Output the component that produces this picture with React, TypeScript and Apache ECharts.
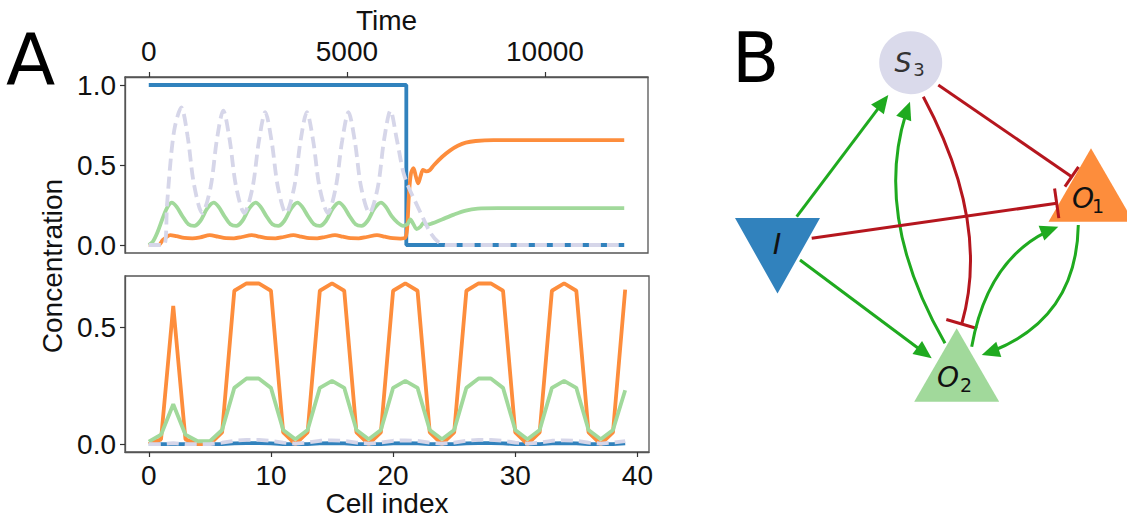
import React, { useEffect, useRef } from "react";
import * as echarts from "echarts";

const AX_FONT = "'Liberation Sans', Arial, Helvetica, sans-serif";
const LETTER_FONT = "'DejaVu Sans', sans-serif";
const MATH_FONT = "'DejaVu Sans', sans-serif";

// ---------------- Data: panel A, top (time course) ----------------
const timeTicks = [0, 5000, 10000];
const concTicksTop = [0, 0.5, 1.0];
const concTicksBottom = [0, 0.5];
const cellTicks = [0, 10, 20, 30, 40];

const timeI: [number, number][] = [[0, 1], [6500, 1], [6500, 0], [12000, 0]];

const timeO1: [number, number][] = [
  [0, 0], [250, 0], [350, 0.03], [450, 0.05], [540, 0.062], [700, 0.055], [900, 0.044], [1100, 0.042],
  [1300, 0.048], [1540, 0.062], [1750, 0.052], [1950, 0.043], [2150, 0.042], [2350, 0.05], [2600, 0.062],
  [2800, 0.052], [3000, 0.043], [3200, 0.042], [3400, 0.05], [3650, 0.062], [3850, 0.052], [4050, 0.043],
  [4250, 0.042], [4450, 0.05], [4700, 0.062], [4900, 0.052], [5100, 0.043], [5300, 0.042], [5500, 0.05],
  [5760, 0.062], [5960, 0.052], [6160, 0.043], [6350, 0.04], [6470, 0.045], [6520, 0.1], [6570, 0.33],
  [6620, 0.45], [6680, 0.48], [6740, 0.43], [6800, 0.385], [6860, 0.43], [6920, 0.47], [7000, 0.46],
  [7080, 0.465], [7200, 0.5], [7400, 0.55], [7600, 0.59], [7800, 0.62], [8000, 0.64], [8250, 0.65],
  [8700, 0.655], [12000, 0.655],
];

const timeO2: [number, number][] = [
  [0, 0], [100, 0.02], [220, 0.08], [370, 0.18], [480, 0.24], [580, 0.265], [700, 0.24], [850, 0.18],
  [1000, 0.13], [1150, 0.12], [1300, 0.15], [1480, 0.23], [1640, 0.265], [1760, 0.24], [1910, 0.18],
  [2060, 0.13], [2210, 0.12], [2360, 0.15], [2540, 0.23], [2700, 0.265], [2820, 0.24], [2970, 0.18],
  [3120, 0.13], [3270, 0.12], [3420, 0.15], [3600, 0.23], [3750, 0.265], [3870, 0.24], [4020, 0.18],
  [4170, 0.13], [4320, 0.12], [4470, 0.15], [4650, 0.23], [4800, 0.265], [4920, 0.24], [5070, 0.18],
  [5220, 0.13], [5370, 0.12], [5520, 0.15], [5700, 0.23], [5860, 0.265], [5980, 0.24], [6130, 0.18],
  [6280, 0.14], [6420, 0.12], [6530, 0.13], [6600, 0.16], [6680, 0.13], [6760, 0.1], [6860, 0.115],
  [6940, 0.14], [7010, 0.125], [7150, 0.135], [7400, 0.16], [7700, 0.19], [8000, 0.215], [8300, 0.227],
  [8800, 0.23], [12000, 0.23],
];

const timeS3: [number, number][] = [
  [0, 0], [380, 0], [460, 0.25], [560, 0.55], [660, 0.74], [820, 0.86], [980, 0.68], [1140, 0.38],
  [1350, 0.2], [1560, 0.36], [1720, 0.66], [1880, 0.84], [2040, 0.66], [2200, 0.37], [2410, 0.2],
  [2620, 0.36], [2780, 0.65], [2940, 0.83], [3100, 0.65], [3260, 0.36], [3460, 0.2], [3670, 0.36],
  [3830, 0.65], [3990, 0.83], [4150, 0.65], [4310, 0.36], [4520, 0.2], [4720, 0.36], [4880, 0.65],
  [5040, 0.83], [5200, 0.65], [5360, 0.36], [5570, 0.2], [5780, 0.36], [5940, 0.66], [6100, 0.84],
  [6260, 0.66], [6420, 0.46], [6560, 0.36], [6710, 0.28], [6920, 0.17], [7100, 0.08], [7300, 0.02],
  [7500, 0], [12000, 0],
];

// ---------------- Data: panel A, bottom (per cell) ----------------
const cellO1 = [
  0, 0.02, 0.59, 0.02, 0, 0, 0.05, 0.655, 0.686, 0.686, 0.655, 0.05, 0, 0.05, 0.655, 0.686, 0.655, 0.05, 0, 0.05,
  0.655, 0.686, 0.655, 0.05, 0, 0.05, 0.655, 0.686, 0.686, 0.655, 0.05, 0, 0.05, 0.655, 0.686, 0.655, 0.05, 0, 0.05, 0.66,
];
const cellO2 = [
  0.01, 0.04, 0.17, 0.04, 0.012, 0.012, 0.06, 0.24, 0.28, 0.28, 0.24, 0.06, 0.02, 0.06, 0.24, 0.27, 0.24, 0.06, 0.02, 0.06,
  0.24, 0.27, 0.24, 0.06, 0.02, 0.06, 0.24, 0.28, 0.28, 0.24, 0.06, 0.02, 0.06, 0.24, 0.27, 0.24, 0.06, 0.02, 0.06, 0.23,
];
const cellI = [
  0, 0, 0, 0, 0, 0, 0, 0.003, 0.004, 0.004, 0.003, 0, 0, 0, 0.003, 0.004, 0.003, 0, 0, 0,
  0.003, 0.004, 0.003, 0, 0, 0, 0.003, 0.004, 0.004, 0.003, 0, 0, 0, 0.003, 0.004, 0.003, 0, 0, 0, 0.003,
];
const cellS3 = [
  0, 0, 0.004, 0, 0, 0, 0.006, 0.014, 0.018, 0.018, 0.014, 0.006, 0.002, 0.006, 0.014, 0.016, 0.014, 0.006, 0.002, 0.006,
  0.014, 0.016, 0.014, 0.006, 0.002, 0.006, 0.014, 0.018, 0.018, 0.014, 0.006, 0.002, 0.006, 0.014, 0.016, 0.014, 0.006, 0.002, 0.006, 0.012,
];

// ---------------- Data: panel B (network) ----------------
const nodes = [
  { id: "S3", label: "S", sub: "3" },
  { id: "I", label: "I", sub: "" },
  { id: "O1", label: "O", sub: "1" },
  { id: "O2", label: "O", sub: "2" },
];
const edges = [
  { from: "I", to: "S3", kind: "act" },
  { from: "O2", to: "S3", kind: "act" },
  { from: "S3", to: "O2", kind: "inh" },
  { from: "S3", to: "O1", kind: "inh" },
  { from: "I", to: "O1", kind: "inh" },
  { from: "I", to: "O2", kind: "act" },
  { from: "O2", to: "O1", kind: "act" },
  { from: "O1", to: "O2", kind: "act" },
];

// ---------------- Styles / layout ----------------
const C_I = "#3182bd";
const C_O1 = "#fd8d3c";
const C_O2 = "#a1d99b";
const C_S3 = "#d6d6e9";
const C_ACT = "#1faa1f";
const C_INH = "#b5161e";
const LW = 3.8;

type Pt = [number, number];

const nodeStyle: Record<string, any> = {
  S3: { shape: "circle", cx: 910.7, cy: 62.7, r: 31.5, fill: "#dadaeb", lx: 903, ly: 62, sx: 919, sy: 69, fs: 27, sfs: 18, color: "#333" },
  I: { shape: "down", cx: 777.5, top: 218, bottom: 293.5, hw: 42.5, fill: C_I, lx: 777, ly: 244, fs: 29, sfs: 19, color: "#111" },
  O1: { shape: "up", cx: 1091, top: 148.3, bottom: 221.7, hw: 42.5, fill: C_O1, lx: 1083, ly: 198, sx: 1098, sy: 206, fs: 28, sfs: 19, color: "#111" },
  O2: { shape: "up", cx: 956.7, top: 328.3, bottom: 401.7, hw: 42.5, fill: C_O2, lx: 948, ly: 377, sx: 966, sy: 385, fs: 28, sfs: 19, color: "#111" },
};

const edgeGeom: Record<string, { p0: Pt; p2: Pt; mid?: Pt; bar?: number }> = {
  "I-S3": { p0: [796.7, 216.7], p2: [888.3, 95] },
  "O2-S3": { p0: [945, 343.3], p2: [910, 101.7], mid: [898.3, 216.7] },
  "S3-O2": { p0: [923.3, 96.7], p2: [961.7, 324], mid: [966.7, 216.7], bar: 16 },
  "S3-O1": { p0: [938.3, 85], p2: [1071.7, 176.7], bar: 12 },
  "I-O1": { p0: [811.7, 238.3], p2: [1056.7, 203.3], bar: 15 },
  "I-O2": { p0: [800, 260], p2: [931.7, 358.3] },
  "O2-O1": { p0: [971.7, 346.7], p2: [1058.3, 226.7], mid: [1001.7, 270] },
  "O1-O2": { p0: [1078.3, 225], p2: [981.7, 355], mid: [1053.3, 306.7] },
};

const HEAD_LEN = 18;
const HEAD_HW = 8;
const EDGE_W = 3;

function nrm(v: Pt): Pt {
  const l = Math.hypot(v[0], v[1]) || 1;
  return [v[0] / l, v[1] / l];
}

function buildNetwork(): any[] {
  const els: any[] = [];
  nodes.forEach((n) => {
    const s = nodeStyle[n.id];
    if (s.shape === "circle") {
      els.push({ type: "circle", silent: true, shape: { cx: s.cx, cy: s.cy, r: s.r }, style: { fill: s.fill } });
    } else if (s.shape === "down") {
      els.push({
        type: "polygon", silent: true,
        shape: { points: [[s.cx - s.hw, s.top], [s.cx + s.hw, s.top], [s.cx, s.bottom]] },
        style: { fill: s.fill },
      });
    } else {
      els.push({
        type: "polygon", silent: true,
        shape: { points: [[s.cx, s.top], [s.cx + s.hw, s.bottom], [s.cx - s.hw, s.bottom]] },
        style: { fill: s.fill },
      });
    }
  });
  edges.forEach((e) => {
    const g = edgeGeom[`${e.from}-${e.to}`];
    const color = e.kind === "act" ? C_ACT : C_INH;
    const { p0, p2, mid } = g;
    let C: Pt | null = null;
    let d: Pt;
    if (mid) {
      C = [2 * mid[0] - 0.5 * (p0[0] + p2[0]), 2 * mid[1] - 0.5 * (p0[1] + p2[1])];
      d = nrm([p2[0] - C[0], p2[1] - C[1]]);
    } else {
      d = nrm([p2[0] - p0[0], p2[1] - p0[1]]);
    }
    const lineStyle = { stroke: color, lineWidth: EDGE_W, fill: null, lineCap: "butt" };
    if (e.kind === "act") {
      const inset = HEAD_LEN * 0.7;
      if (C) {
        const L = 2 * Math.hypot(p2[0] - C[0], p2[1] - C[1]);
        const t = 1 - inset / L;
        const cp: Pt = [p0[0] + t * (C[0] - p0[0]), p0[1] + t * (C[1] - p0[1])];
        const u = 1 - t;
        const end: Pt = [
          u * u * p0[0] + 2 * u * t * C[0] + t * t * p2[0],
          u * u * p0[1] + 2 * u * t * C[1] + t * t * p2[1],
        ];
        els.push({ type: "bezierCurve", silent: true, shape: { x1: p0[0], y1: p0[1], x2: end[0], y2: end[1], cpx1: cp[0], cpy1: cp[1] }, style: lineStyle });
      } else {
        els.push({ type: "line", silent: true, shape: { x1: p0[0], y1: p0[1], x2: p2[0] - d[0] * inset, y2: p2[1] - d[1] * inset }, style: lineStyle });
      }
      const nv: Pt = [-d[1], d[0]];
      const bx = p2[0] - d[0] * HEAD_LEN;
      const by = p2[1] - d[1] * HEAD_LEN;
      els.push({
        type: "polygon", silent: true,
        shape: { points: [p2, [bx + nv[0] * HEAD_HW, by + nv[1] * HEAD_HW], [bx - nv[0] * HEAD_HW, by - nv[1] * HEAD_HW]] },
        style: { fill: color },
      });
    } else {
      if (C) {
        els.push({ type: "bezierCurve", silent: true, shape: { x1: p0[0], y1: p0[1], x2: p2[0], y2: p2[1], cpx1: C[0], cpy1: C[1] }, style: lineStyle });
      } else {
        els.push({ type: "line", silent: true, shape: { x1: p0[0], y1: p0[1], x2: p2[0], y2: p2[1] }, style: lineStyle });
      }
      const h = g.bar || 15;
      const nv: Pt = [-d[1], d[0]];
      els.push({
        type: "line", silent: true,
        shape: { x1: p2[0] + nv[0] * h, y1: p2[1] + nv[1] * h, x2: p2[0] - nv[0] * h, y2: p2[1] - nv[1] * h },
        style: { stroke: color, lineWidth: EDGE_W, lineCap: "butt" },
      });
    }
  });
  nodes.forEach((n) => {
    const s = nodeStyle[n.id];
    els.push({
      type: "text", silent: true, x: s.lx, y: s.ly,
      style: {
        text: n.label, fontSize: s.fs, fontFamily: MATH_FONT, fontStyle: "italic", fill: s.color,
        align: "center", verticalAlign: "middle", textAlign: "center", textVerticalAlign: "middle",
      },
    });
    if (n.sub) {
      els.push({
        type: "text", silent: true, x: s.sx, y: s.sy,
        style: {
          text: n.sub, fontSize: s.sfs, fontFamily: MATH_FONT, fill: s.color,
          align: "center", verticalAlign: "middle", textAlign: "center", textVerticalAlign: "middle",
        },
      });
    }
  });
  return els;
}

function letter(text: string, x: number, y: number, size: number) {
  return {
    type: "text", silent: true, x, y,
    style: { text, fontSize: size, fontFamily: LETTER_FONT, fill: "#000", align: "left", verticalAlign: "middle", textAlign: "left", textVerticalAlign: "middle" },
  };
}

const tickStyle = { show: true, length: 5, lineStyle: { color: "#333", width: 1.2 } };
const lblStyle = { fontSize: 28, fontFamily: AX_FONT, color: "#111" };
const axLine = { show: true, onZero: false, lineStyle: { color: "#555", width: 1.3 } };

export default function App() {
  const ref = useRef<HTMLDivElement>(null);
  useEffect(() => {
    if (!ref.current) return;
    const chart = echarts.init(ref.current, undefined, { renderer: "svg" });
    const cellSeries = (vals: number[]) => vals.map((v, i) => [i, v]);
    const option: any = {
      animation: false,
      backgroundColor: "#fff",
      grid: [
        { left: 125, top: 77, width: 523, height: 176, show: true, borderColor: "#555", borderWidth: 1.3, containLabel: false, outerBoundsMode: "none" },
        { left: 125, top: 276, width: 524, height: 176, show: true, borderColor: "#555", borderWidth: 1.3, containLabel: false, outerBoundsMode: "none" },
      ],
      xAxis: [
        {
          gridIndex: 0, type: "value", position: "top", min: -600, max: 12600,
          axisLine: axLine, splitLine: { show: false },
          axisTick: { ...tickStyle, customValues: timeTicks },
          axisLabel: { ...lblStyle, customValues: timeTicks, margin: 12, formatter: (v: number) => String(v) },
          name: "Time", nameLocation: "middle", nameGap: 43, nameTextStyle: lblStyle,
        },
        {
          gridIndex: 1, type: "value", min: -1.95, max: 40.95,
          axisLine: axLine, splitLine: { show: false },
          axisTick: { ...tickStyle, customValues: cellTicks },
          axisLabel: { ...lblStyle, customValues: cellTicks, margin: 9, formatter: (v: number) => String(v) },
          name: "Cell index", nameLocation: "middle", nameGap: 37, nameTextStyle: lblStyle,
        },
      ],
      yAxis: [
        {
          gridIndex: 0, type: "value", min: -0.05, max: 1.05,
          axisLine: axLine, splitLine: { show: false },
          axisTick: { ...tickStyle, customValues: concTicksTop },
          axisLabel: { ...lblStyle, customValues: concTicksTop, margin: 9, formatter: (v: number) => v.toFixed(1) },
        },
        {
          gridIndex: 1, type: "value", min: -0.034, max: 0.718,
          axisLine: axLine, splitLine: { show: false },
          axisTick: { ...tickStyle, customValues: concTicksBottom },
          axisLabel: { ...lblStyle, customValues: concTicksBottom, margin: 9, formatter: (v: number) => v.toFixed(1) },
        },
      ],
      series: [
        { name: "I", type: "line", xAxisIndex: 0, yAxisIndex: 0, data: timeI, showSymbol: false, symbol: "none", lineStyle: { color: C_I, width: LW } },
        { name: "O1", type: "line", xAxisIndex: 0, yAxisIndex: 0, data: timeO1, smooth: 0.3, showSymbol: false, symbol: "none", lineStyle: { color: C_O1, width: LW } },
        { name: "O2", type: "line", xAxisIndex: 0, yAxisIndex: 0, data: timeO2, smooth: 0.3, showSymbol: false, symbol: "none", lineStyle: { color: C_O2, width: LW } },
        { name: "S3", type: "line", xAxisIndex: 0, yAxisIndex: 0, data: timeS3, smooth: 0.3, showSymbol: false, symbol: "none", lineStyle: { color: C_S3, width: LW, type: [12, 6] } },
        { name: "I cells", type: "line", xAxisIndex: 1, yAxisIndex: 1, data: cellSeries(cellI), showSymbol: false, symbol: "none", lineStyle: { color: C_I, width: LW } },
        { name: "O1 cells", type: "line", xAxisIndex: 1, yAxisIndex: 1, data: cellSeries(cellO1), showSymbol: false, symbol: "none", lineStyle: { color: C_O1, width: LW } },
        { name: "O2 cells", type: "line", xAxisIndex: 1, yAxisIndex: 1, data: cellSeries(cellO2), showSymbol: false, symbol: "none", lineStyle: { color: C_O2, width: LW } },
        { name: "S3 cells", type: "line", xAxisIndex: 1, yAxisIndex: 1, data: cellSeries(cellS3), showSymbol: false, symbol: "none", lineStyle: { color: C_S3, width: LW, type: [12, 6] } },
      ],
      graphic: {
        elements: [
          letter("A", 6, 59, 72),
          letter("B", 732, 58, 69),
          {
            type: "text", silent: true, x: 52, y: 266, rotation: Math.PI / 2,
            style: { text: "Concentration", fontSize: 28, fontFamily: AX_FONT, fill: "#111", align: "center", verticalAlign: "middle", textAlign: "center", textVerticalAlign: "middle" },
          },
          ...buildNetwork(),
        ],
      },
    };
    chart.setOption(option);
    return () => chart.dispose();
  }, []);
  return <div ref={ref} style={{ position: "fixed", left: 0, top: 0, width: 1127, height: 520 }} />;
}
